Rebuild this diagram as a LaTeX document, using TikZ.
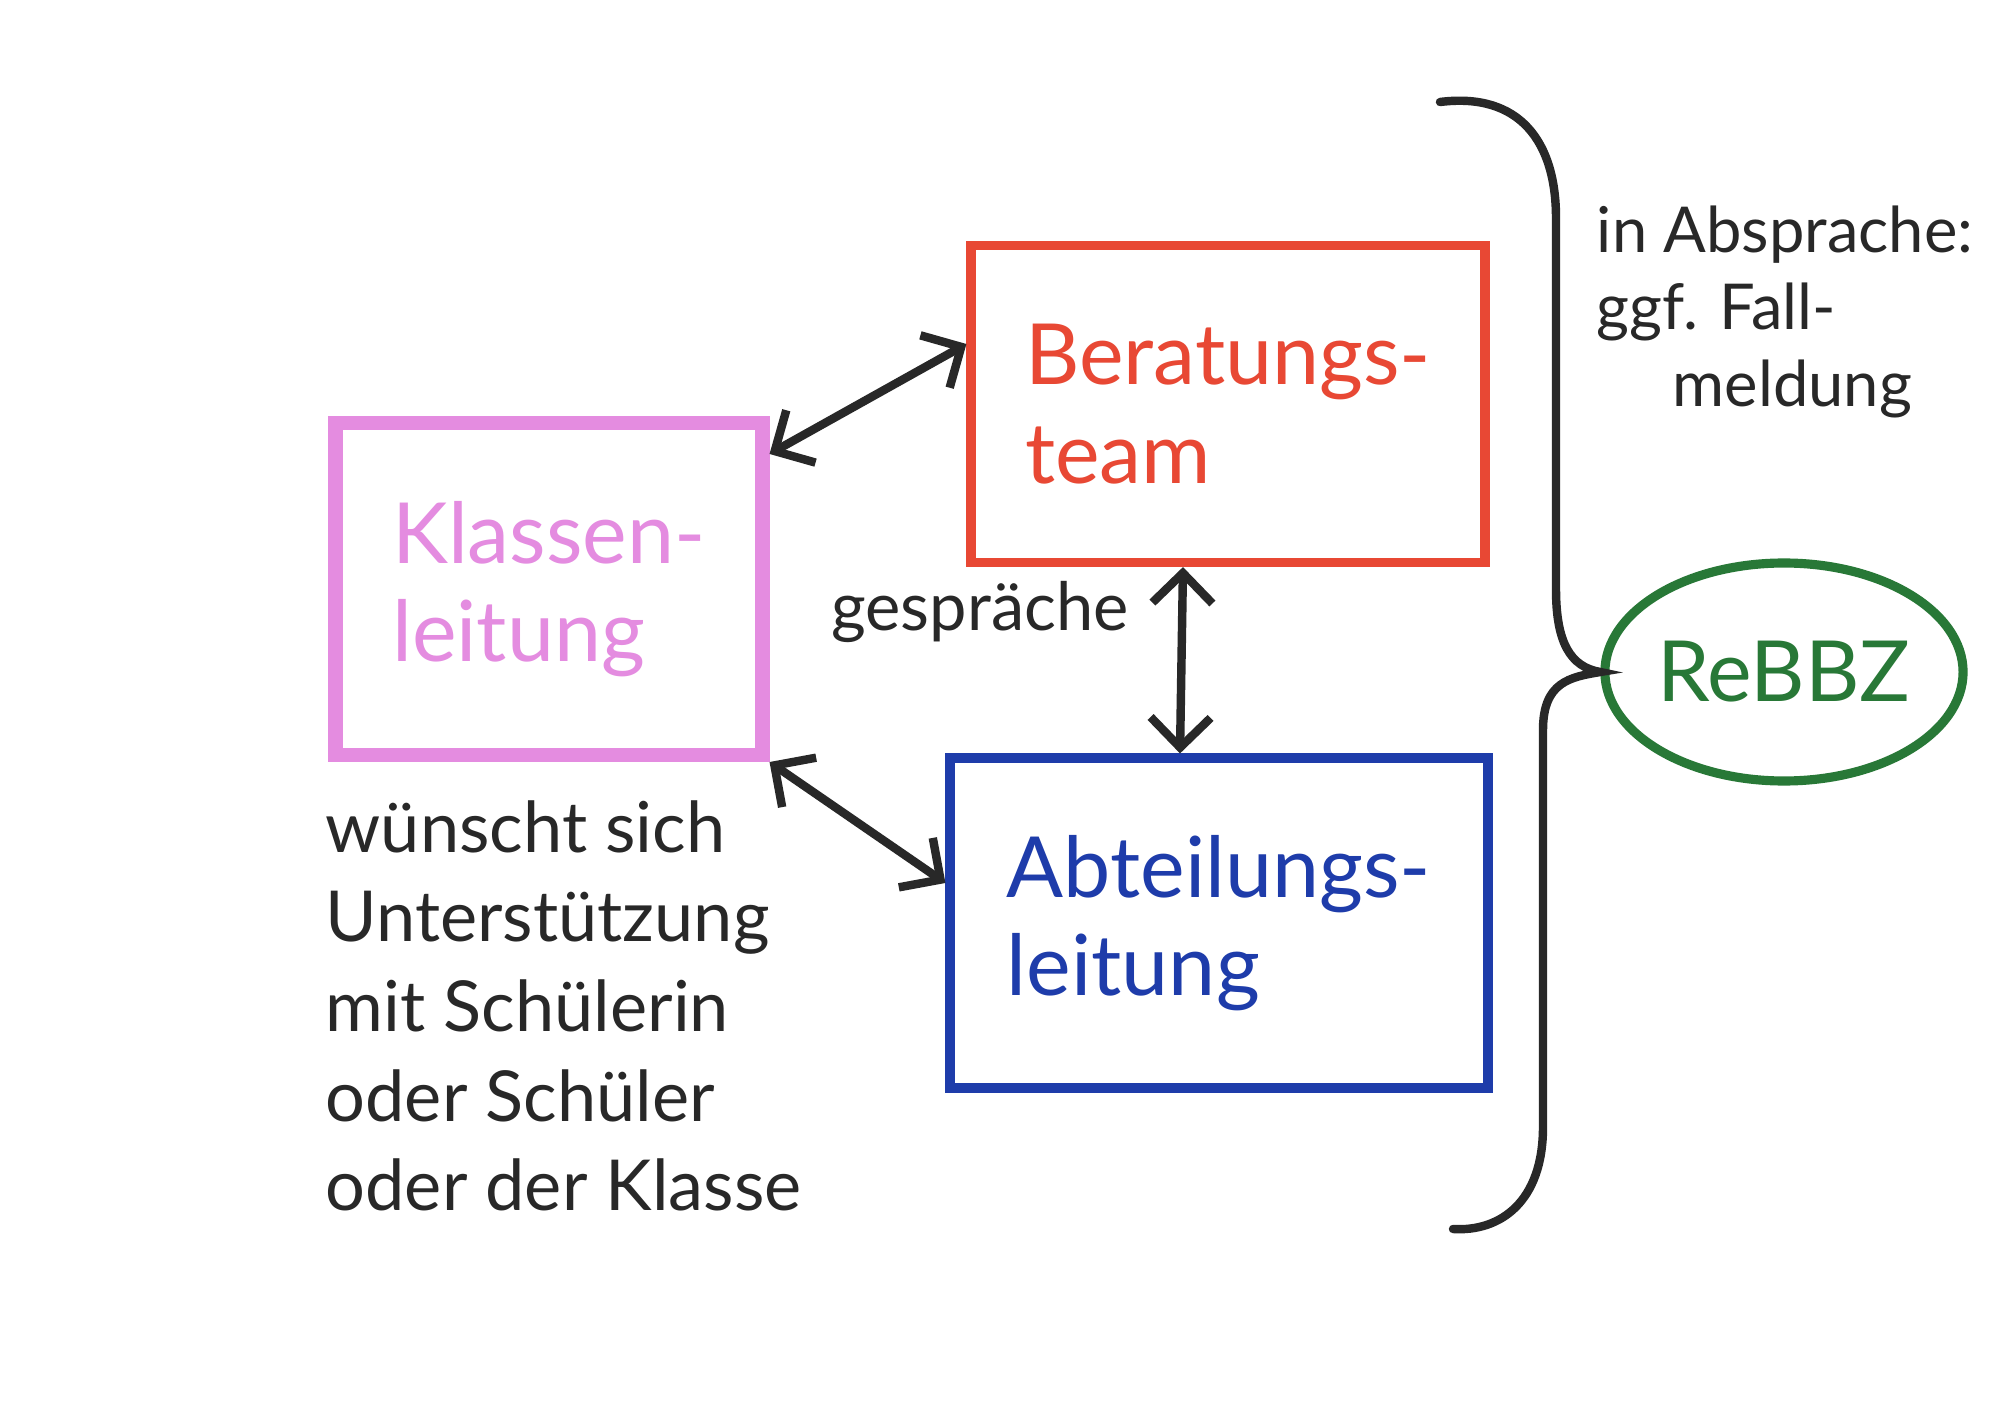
\documentclass[tikz,border=0pt]{standalone}
\usepackage{fontspec}
\setmainfont{Lato}
\usetikzlibrary{positioning, arrows.meta, shapes.geometric}
\definecolor{klpink}{RGB}{228,140,224}
\definecolor{btred}{RGB}{232,72,52}
\definecolor{alblue}{RGB}{30,60,170}
\definecolor{rbgreen}{RGB}{40,120,55}
\definecolor{pen}{RGB}{40,40,40}

\begin{document}
\begin{tikzpicture}[
    box/.style={draw, line width=2.6pt, align=left, font=\fontsize{24}{28}\selectfont},
    note/.style={text=pen, align=left, font=\fontsize{18}{22}\selectfont},
    link/.style={{Straight Barb[length=3mm,width=6mm]}-{Straight Barb[length=3mm,width=6mm]}, pen, line width=2.4pt}
  ]
  \useasboundingbox (0,0) rectangle (20.08,14.22);
  \fill[white] (0,0) rectangle (20.08,14.22);

  % the three boxes
  \node[box, klpink, line width=4pt, minimum width=4.27cm, minimum height=3.32cm] (kl) at (5.49,8.33) {Klassen-\\leitung};
  \node[box, btred, minimum width=5.14cm, minimum height=3.17cm] (bt) at (12.28,10.18) {Beratungs-\\team};
  \node[box, alblue, minimum width=5.38cm, minimum height=3.30cm] (al) at (12.19,4.99) {Abteilungs-\\leitung};

  % ReBBZ
  \node[ellipse, draw, rbgreen, line width=2.6pt, inner sep=0pt, minimum width=3.58cm, minimum height=2.18cm,
        font=\fontsize{24}{28}\selectfont] (rb) at (17.84,7.50) {ReBBZ};

  % texts
  \node[note] (ab) at (17.85,11.10) {in Absprache:\\ggf. Fall-\\\hspace*{1.2em}meldung};
  \node[note, font=\fontsize{19}{22}\selectfont] (gs) at (9.80,8.10) {gespräche};
  \node[note, anchor=west, inner sep=0pt, font=\fontsize{20}{25.5}\selectfont] (ws) at (3.25,4.16)
    {wünscht sich\\Unterstützung\\mit Schülerin\\oder Schüler\\oder der Klasse};

  % arrows between boxes
  \draw[link] ([yshift=-3.8mm]kl.north east) -- ([yshift=6mm]bt.west);
  \draw[link] (kl.south east) -- ([yshift=4mm]al.west);
  \draw[link] ([xshift=-4.5mm]bt.south) -- ([xshift=-3.9mm]al.north);

  % brace towards ReBBZ
  \draw[pen, line width=2.4pt, line cap=round]
    (14.40,13.20) .. controls (15.20,13.30) and (15.56,12.80) .. (15.56,12.04)
    -- (15.56,8.33) .. controls (15.56,7.80) and (15.70,7.55) .. (rb.west)
    .. controls (15.70,7.45) and (15.43,7.40) .. (15.43,6.92)
    -- (15.43,2.95) .. controls (15.43,2.20) and (15.00,1.90) .. (14.53,1.93);
\end{tikzpicture}
\end{document}
